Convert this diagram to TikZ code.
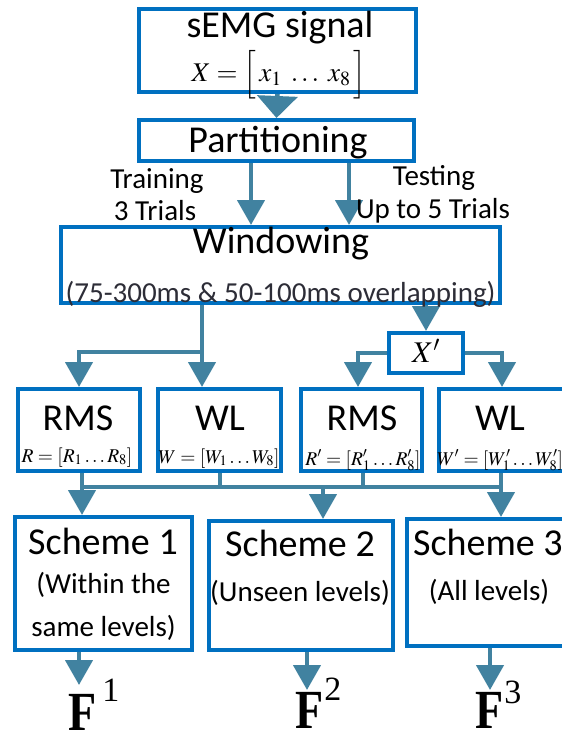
\documentclass[tikz,border=0pt]{standalone}
\usepackage{mathptmx}
\usepackage[no-math]{fontspec}
\setmainfont{Carlito}
\newfontfamily\tms{Liberation Serif}
\usetikzlibrary{arrows.meta}
\definecolor{boxblue}{RGB}{0,112,192}
\definecolor{arrowc}{RGB}{65,130,160}
\definecolor{subtxt}{RGB}{45,45,55}
\tikzset{
  box/.style={draw=boxblue, line width=4pt, fill=white, inner sep=0pt},
  conn/.style={draw=arrowc, line width=4.5pt},
  arr/.style={conn, -{Triangle[width=27pt,length=25pt]}},
  widearr/.style={conn, -{Triangle[width=40pt,length=22pt]}},
  big/.style={font=\fontsize{38}{40}\selectfont, inner sep=0pt, anchor=base},
  small/.style={font=\fontsize{29}{32}\selectfont, inner sep=0pt, anchor=base},
  fm/.style={font=\fontsize{19.5}{22}\selectfont, inner sep=0pt, anchor=base},
  fnode/.style={inner sep=0pt, anchor=base west},
}
\newcommand{\Fbig}{\tms\bfseries\fontsize{46}{46}\selectfont}
\newcommand{\Fsup}{\tms\fontsize{34}{34}\selectfont}
\begin{document}
\begin{tikzpicture}[x=1pt,y=-1pt]
\useasboundingbox (0,0) rectangle (562,736);
\clip (0,0) rectangle (562,736);
% boxes
\node[box, minimum width=277pt, minimum height=83pt] (sEMG) at (277.5,50.5) {};
\node[box, minimum width=275pt, minimum height=41pt] (Part) at (276.5,140.5) {};
\node[box, minimum width=439pt, minimum height=76pt] (Win) at (280.5,265) {};
\node[box, minimum width=74pt, minimum height=40pt] (Xp) at (426,353) {};
\node[box, minimum width=122pt, minimum height=82pt] (RMS) at (79,430) {};
\node[box, minimum width=123pt, minimum height=82pt] (WL) at (219.5,430) {};
\node[box, minimum width=121pt, minimum height=82pt] (RMSp) at (361.5,430) {};
\node[box, minimum width=161pt, minimum height=82pt] (WLp) at (519.5,430) {};
\node[box, minimum width=177pt, minimum height=133pt] (S1) at (103.5,583.5) {};
\node[box, minimum width=184pt, minimum height=129pt] (S2) at (301,585.5) {};
\node[box, minimum width=193pt, minimum height=127pt] (S3) at (503.5,582.5) {};
% coordinates
\coordinate (c251) at (251,0);
\coordinate (c349) at (349,0);
\coordinate (j1) at (202,352);
\coordinate (c358) at (358,0);
\coordinate (c502) at (502,0);
\coordinate (b1) at (82,487);
\coordinate (b2) at (220,487);
\coordinate (b3) at (363,487);
\coordinate (b4) at (501,487);
\coordinate (b5) at (323,487);
\coordinate (t1) at (79,685);
\coordinate (t2) at (307,690);
\coordinate (t3) at (490,690);
% connectors
\draw[widearr] (sEMG.south) -- (Part.north);
\draw[arr] (Part.south -| c251) -- (Win.north -| c251);
\draw[arr] (Part.south -| c349) -- (Win.north -| c349);
\draw[conn] (Win.south -| j1) -- (j1);
\draw[arr] (j1) -- (WL.north -| j1);
\draw[arr] (j1) -| (RMS.north);
\draw[arr] (Win.south -| Xp.north) -- (Xp.north);
\draw[arr] (Xp.west) -| (RMSp.north -| c358);
\draw[arr] (Xp.east) -| (WLp.north -| c502);
\draw[conn] (RMS.south -| b1) -- (b1) -- (b4);
\draw[conn] (WL.south -| b2) -- (b2);
\draw[conn] (RMSp.south -| b3) -- (b3);
\draw[conn] (WLp.south -| b4) -- (b4);
\draw[arr] (b1) -- (S1.north -| b1);
\draw[arr] (b5) -- (S2.north -| b5);
\draw[arr] (b4) -- (S3.north -| b4);
\draw[arr] (S1.south -| t1) -- (t1);
\draw[arr] (S2.south -| t2) -- (t2);
\draw[arr] (S3.south -| t3) -- (t3);
% texts
\node[big] (tsemg) at (280,37) {sEMG signal};
\node[inner sep=0pt, anchor=base, font=\fontsize{27}{31}\selectfont] (tx) at (279,81) {$X=\Bigl[\,x_1\;\ldots\;x_8\,\Bigr]$};
\node[big] (tpart) at (278,152) {Partitioning};
\node[small] (ttr1) at (157,188) {Training};
\node[small] (ttr2) at (155,220) {3 Trials};
\node[small] (tte1) at (434,185) {Testing};
\node[small] (tte2) at (433,218) {Up to 5 Trials};
\node[big] (twin) at (281,253) {Windowing};
\node[small, text=subtxt] (twin2) at (280.5,302) {(75-300ms \& 50-100ms overlapping)};
\node[inner sep=0pt, anchor=base, font=\fontsize{30}{32}\selectfont] (txp) at (426,362) {$X'$};
\node[big] (trms) at (78,430) {RMS};
\node[big] (twl) at (220,430) {WL};
\node[big] (trmsp) at (362,430) {RMS};
\node[big] (twlp) at (500,430) {WL};
\node[fm] (fr) at (77,462) {$R=[R_1\ldots R_8]$};
\node[fm] (fw) at (219,463) {$W=[W_1\ldots W_8]$};
\node[fm] (frp) at (363,465) {$R'=[R'_1\ldots R'_8]$};
\node[fm] (fwp) at (500,465) {$W'=[W'_1\ldots W'_8]$};
\node[big] (ts1) at (103,554) {Scheme 1};
\node[small] (ts1b) at (103.5,593) {(Within the};
\node[small] (ts1c) at (103.5,636) {same levels)};
\node[big] (ts2) at (300,556) {Scheme 2};
\node[small] (ts2b) at (300,601) {(Unseen levels)};
\node[big, anchor=base west] (ts3) at (413,555) {Scheme 3};
\node[small] (ts3b) at (489,600) {(All levels)};
\node[fnode] (f1) at (68,730) {\scalebox{1}[1.2]{\Fbig F}\hspace{6pt}\raisebox{29pt}{\Fsup 1}};
\node[fnode] (f2) at (295,728) {\scalebox{1}[1.2]{\Fbig F}\hspace{1pt}\raisebox{28pt}{\Fsup 2}};
\node[fnode] (f3) at (475,728) {\scalebox{1}[1.2]{\Fbig F}\hspace{1pt}\raisebox{25pt}{\Fsup 3}};
\end{tikzpicture}
\end{document}
